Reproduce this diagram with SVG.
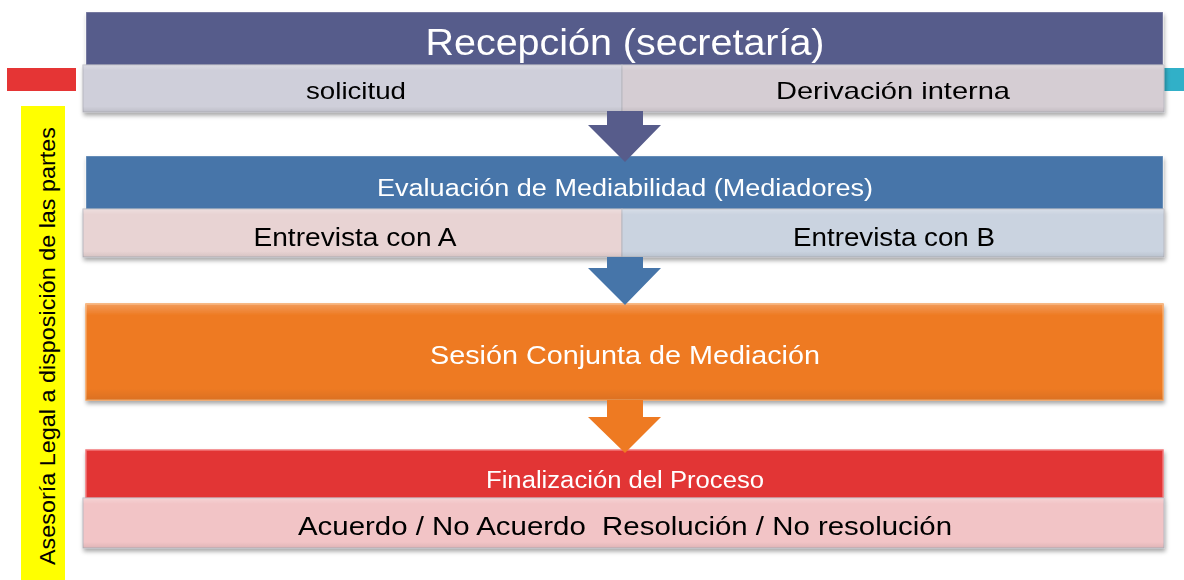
<svg xmlns="http://www.w3.org/2000/svg" width="1184" height="580" viewBox="0 0 1184 580">
<defs>
<filter id="sh" x="-5%" y="-20%" width="110%" height="150%">
<feDropShadow dx="1" dy="3" stdDeviation="2" flood-color="#000" flood-opacity="0.35"/>
</filter>
<linearGradient id="gloss" x1="0" y1="0" x2="0" y2="1">
<stop offset="0" stop-color="#fff" stop-opacity="0.25"/>
<stop offset="0.12" stop-color="#fff" stop-opacity="0"/>
<stop offset="0.88" stop-color="#000" stop-opacity="0"/>
<stop offset="1" stop-color="#000" stop-opacity="0.08"/>
</linearGradient>
</defs>
<style>
text{font-family:"Liberation Sans","DejaVu Sans",sans-serif;text-anchor:middle;white-space:pre}
.w{fill:#fff}
.k{fill:#000}
.cell{stroke:#b8b8c0;stroke-width:1}
.hd{stroke:#ffffff;stroke-opacity:0.35;stroke-width:1}
</style>
<rect width="1184" height="580" fill="#fff"/>
<rect x="7" y="68" width="69" height="23" fill="#E53535"/>
<rect x="1164" y="68" width="20" height="23" fill="#31B0C8"/>
<rect x="21" y="106" width="44" height="474" fill="#FFFF00"/>
<text class="k" transform="translate(55,346) rotate(-90)" font-size="22" textLength="438" lengthAdjust="spacingAndGlyphs">Asesoría Legal a disposición de las partes</text>

<g id="recepcion" filter="url(#sh)">
<rect class="hd" x="86" y="12" width="1077" height="53" fill="#575C8B"/>
<rect class="cell" x="83" y="65" width="539" height="47" fill="#CFCFDA"/>
<rect class="cell" x="622" y="65" width="542" height="47" fill="#D5CDD3"/>
<rect x="83" y="65" width="1081" height="47" fill="url(#gloss)"/>
<text class="w" x="625" y="55" font-size="37" textLength="399" lengthAdjust="spacingAndGlyphs">Recepción (secretaría)</text>
<text class="k" x="356" y="99" font-size="24" textLength="100" lengthAdjust="spacingAndGlyphs">solicitud</text>
<text class="k" x="893" y="99" font-size="24" textLength="234" lengthAdjust="spacingAndGlyphs">Derivación interna</text>
</g>

<g id="evaluacion" filter="url(#sh)">
<rect class="hd" x="86" y="156" width="1077" height="53" fill="#4675A9"/>
<rect class="cell" x="83" y="209" width="539" height="48" fill="#E8D3D3"/>
<rect class="cell" x="622" y="209" width="542" height="48" fill="#CAD3E0"/>
<rect x="83" y="209" width="1081" height="48" fill="url(#gloss)"/>
<text class="w" x="625" y="196" font-size="23" textLength="496" lengthAdjust="spacingAndGlyphs">Evaluación de Mediabilidad (Mediadores)</text>
<text class="k" x="355" y="246" font-size="25" textLength="203" lengthAdjust="spacingAndGlyphs">Entrevista con A</text>
<text class="k" x="894" y="246" font-size="25" textLength="202" lengthAdjust="spacingAndGlyphs">Entrevista con B</text>
</g>

<g id="sesion" filter="url(#sh)">
<rect x="86" y="304" width="1077" height="96" fill="#EE7A22" stroke="#F6A460" stroke-width="1.5"/>
<rect x="86" y="304" width="1077" height="96" fill="url(#gloss)"/>
<text class="w" x="625" y="364" font-size="26" textLength="390" lengthAdjust="spacingAndGlyphs">Sesión Conjunta de Mediación</text>
</g>

<g id="finalizacion" filter="url(#sh)">
<rect x="86" y="450" width="1077" height="48" fill="#E23436" stroke="#F2777A" stroke-width="1.5"/>
<rect class="cell" x="83" y="498" width="1081" height="50" fill="#F2C4C6"/>
<rect x="83" y="498" width="1081" height="50" fill="url(#gloss)"/>
<text class="w" x="625" y="488" font-size="23" textLength="278" lengthAdjust="spacingAndGlyphs">Finalización del Proceso</text>
<text class="k" x="625" y="535" font-size="26" textLength="654" lengthAdjust="spacingAndGlyphs">Acuerdo / No Acuerdo  Resolución / No resolución</text>
</g>

<g id="connectors">
<polygon points="607,111 643,111 643,125 661,125 625,162 588,125 607,125" fill="#575C8B"/>
<polygon points="607,257 643,257 643,268 661,268 625,305 588,268 607,268" fill="#4675A9"/>
<polygon points="607,400 643,400 643,417 661,417 625,453 588,417 607,417" fill="#EE7A22"/>
</g>
</svg>
